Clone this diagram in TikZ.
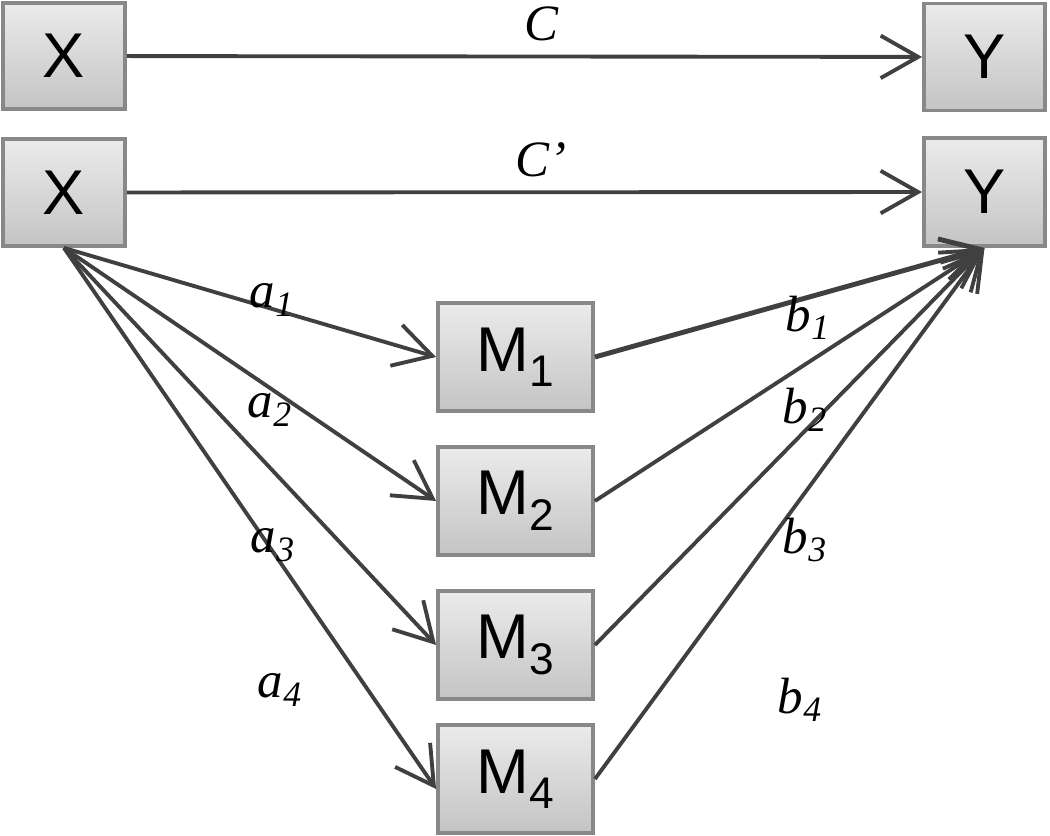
\documentclass[tikz,border=0pt]{standalone}
\usepackage{fontspec}
\setmainfont{Liberation Serif}
\setsansfont{Liberation Sans}
\usetikzlibrary{arrows.meta}
\definecolor{boxtop}{HTML}{EBEBEB}
\definecolor{boxbot}{HTML}{C4C4C4}
\definecolor{boxline}{HTML}{888888}
\definecolor{arrowgray}{HTML}{404040}
\tikzset{
  var/.style={draw=boxline, line width=2.2pt, top color=boxtop, bottom color=boxbot,
    font=\sffamily\fontsize{36}{40}\selectfont, inner sep=0pt},
  link/.style={draw=arrowgray, line width=2.2pt, -{Straight Barb[length=0.75cm,width=0.85cm]}},
  coef/.style={font=\fontsize{29}{33}\selectfont\itshape}
}
\begin{document}
\begin{tikzpicture}
  \useasboundingbox (0,0) rectangle (21,-16.72);

  % direct path
  \node[var, minimum width=2.44cm, minimum height=2.12cm] (X1) at (1.28,-1.12) {X};
  \node[var, minimum width=2.42cm, minimum height=2.14cm] (Y1) at (19.69,-1.14) {Y};
  % with mediators
  \node[var, minimum width=2.44cm, minimum height=2.14cm] (X2) at (1.28,-3.85) {X};
  \node[var, minimum width=2.42cm, minimum height=2.16cm] (Y2) at (19.69,-3.84) {Y};

  \node[var, minimum width=3.1cm, minimum height=2.16cm] (M1) at (10.31,-7.14) {M\textsubscript{1}};
  \node[var, minimum width=3.1cm, minimum height=2.16cm] (M2) at (10.31,-10.02) {M\textsubscript{2}};
  \node[var, minimum width=3.1cm, minimum height=2.16cm] (M3) at (10.31,-12.9) {M\textsubscript{3}};
  \node[var, minimum width=3.1cm, minimum height=2.16cm] (M4) at (10.31,-15.58) {M\textsubscript{4}};

  \draw[link] (X1) -- (Y1);
  \draw[link] (X2) -- (Y2);

  \draw[link] (X2.south) -- (M1.west);
  \draw[link] (X2.south) -- (M2.west);
  \draw[link] (X2.south) -- (M3.west);
  \draw[link] (X2.south) -- ([yshift=-0.2cm]M4.west);

  \draw[link, line width=2.8pt] (M1.east) -- (Y2.south);
  \draw[link] (M2.east) -- (Y2.south);
  \draw[link] (M3.east) -- (Y2.south);
  \draw[link] (M4.east) -- (Y2.south);

  \node[coef] (c) at (10.82,-0.48) {C};
  \node[coef] (cp) at (10.82,-3.2) {C’};

  \node[coef] (a1) at (5.44,-6.0) {a\textsubscript{1}};
  \node[coef] (a2) at (5.40,-8.2) {a\textsubscript{2}};
  \node[coef] (a3) at (5.46,-10.9) {a\textsubscript{3}};
  \node[coef] (a4) at (5.60,-13.8) {a\textsubscript{4}};

  \node[coef] (b1) at (16.16,-6.36) {b\textsubscript{1}};
  \node[coef] (b2) at (16.10,-8.2) {b\textsubscript{2}};
  \node[coef] (b3) at (16.10,-10.8) {b\textsubscript{3}};
  \node[coef] (b4) at (16.00,-14.0) {b\textsubscript{4}};
\end{tikzpicture}
\end{document}
